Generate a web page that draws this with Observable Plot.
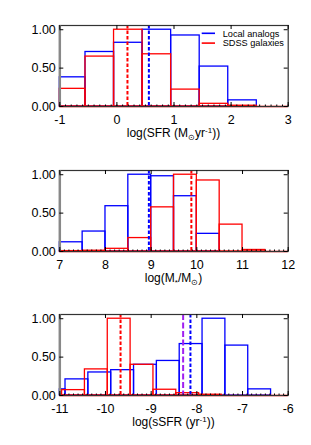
<!DOCTYPE html>
<html>
<head>
<meta charset="utf-8">
<script src="https://cdn.jsdelivr.net/npm/d3@7"></script>
<script src="https://cdn.jsdelivr.net/npm/@observablehq/plot@0.6"></script>
<style>
  html, body { margin: 0; padding: 0; background: #fff; }
  #chart { width: 311px; }
  #chart svg { display: block; }
</style>
</head>
<body>
<div id="chart"></div>
<script>
// ---------- data ----------
// Panel 1: log(SFR)
const sfrTicks = [-1, 0, 1, 2, 3];
const sfrEdges = [-1, -0.55, -0.05, 0.45, 0.95, 1.45, 1.95, 2.45, 3];
const sfrLocal = [0.38, 0.71, 0.83, 1.00, 0.925, 0.52, 0.08, 0];
const sfrSDSS  = [0.23, 0.65, 1.00, 0.68, 0.22, 0.035, 0.01, 0];
const sfrMeans = [{x: 0.185, series: "SDSS"}, {x: 0.56, series: "Local"}];

// Panel 2: log(M*/Msun)
const massTicks = [7, 8, 9, 10, 11, 12];
const massEdges = [7, 7.5, 8, 8.5, 9, 9.5, 10, 10.5, 11, 11.5, 12];
const massLocal = [0.12, 0.26, 0.59, 1.00, 0.98, 0.72, 0.23, 0, 0, 0];
const massSDSS  = [0.005, 0.01, 0.035, 0.175, 0.575, 1.00, 0.925, 0.35, 0.02, 0];
const massMeans = [{x: 8.95, series: "Local"}, {x: 9.88, series: "SDSS"}];

// Panel 3: log(sSFR)
const ssfrTicks = [-11, -10, -9, -8, -7, -6];
const ssfrLocalEdges = [-11, -10.875, -10.375, -9.875, -9.375, -8.875, -8.375, -7.875, -7.375, -6.875, -6.375];
const ssfrLocal = [0.08, 0.21, 0.30, 0.33, 0.40, 0.45, 0.67, 1.00, 0.65, 0.08];
const ssfrSDSSEdges = [-10.95, -10.45, -9.95, -9.45, -8.95, -8.45, -7.95, -7.45];
const ssfrSDSS = [0.07, 0.34, 1.00, 0.40, 0.075, 0.03, 0.01];
const ssfrMeans = [{x: -9.67, series: "SDSS"}, {x: -8.30, series: "Other"}, {x: -8.14, series: "Local"}];

const yTicks = [0, 0.5, 1];
const legendItems = [{name: "Local analogs", series: "Local"}, {name: "SDSS galaxies", series: "SDSS"}];

// ---------- styles ----------
const seriesNames = ["Local", "SDSS", "Other"];
const colors = {Local: "#0000ff", SDSS: "#ff0000", Other: "#a020f0"};
const dashes = {Local: "3.5,2", SDSS: "3.5,2", Other: "6,2.5"};
const FONT = "'Liberation Sans', Arial, Helvetica, sans-serif";
const W = 311, ML = 59.3, MR = 23.3, MT = 25, IH = 81;
const IW = W - ML - MR;

function bins(edges, values) {
  return values.map((v, i) => ({x1: edges[i], x2: edges[i + 1], v}));
}

function panel({height, xDomain, xTicks, local, sdss, means, label, legend}) {
  const mb = height - MT - IH;
  const minor = d3.range(Math.round(xDomain[0] * 10), Math.round(xDomain[1] * 10) + 1).map(d => d / 10);
  const meanMarks = seriesNames.map(sname =>
    Plot.ruleX(means.filter(d => d.series === sname), {
      x: "x", stroke: colors[sname], strokeDasharray: dashes[sname], strokeWidth: 2
    }));
  const svg = Plot.plot({
    width: W, height,
    marginLeft: ML, marginRight: MR, marginTop: MT, marginBottom: mb,
    style: {fontFamily: FONT, fontSize: "12.5px", background: "#fff", color: "#000"},
    x: {domain: xDomain},
    y: {domain: [0, 1.055]},
    marks: [
      Plot.rect(local, {x1: "x1", x2: "x2", y1: 0, y2: "v", fill: "none", stroke: colors.Local, strokeWidth: 1.3}),
      Plot.rect(sdss, {x1: "x1", x2: "x2", y1: 0, y2: "v", fill: "none", stroke: colors.SDSS, strokeWidth: 1.3}),
      ...meanMarks,
      Plot.ruleY([0], {stroke: colors.SDSS, strokeWidth: 1.5}),
      Plot.frame({stroke: "#333", strokeWidth: 1.2}),
      Plot.ruleX([xDomain[0]], {stroke: "#888", strokeWidth: 2.5}),
      Plot.tickX(minor, {x: d => d, stroke: "#000", strokeWidth: 1, insetTop: IH - 1.5}),
      Plot.tickX(xTicks, {x: d => d, stroke: "#000", strokeWidth: 1, insetTop: IH - 4}),
      Plot.tickX(xTicks, {x: d => d, stroke: "#000", strokeWidth: 1, insetBottom: IH - 4}),
      Plot.tickY(yTicks, {y: d => d, stroke: "#000", strokeWidth: 1, insetRight: IW - 4}),
      Plot.tickY(yTicks, {y: d => d, stroke: "#000", strokeWidth: 1, insetLeft: IW - 4}),
      Plot.axisX({ticks: xTicks, tickSize: 0, tickPadding: 8.2, tickFormat: d => String(d), label: null}),
      Plot.axisY({ticks: yTicks, tickSize: 0, tickPadding: 4, tickFormat: d3.format(".2f"), label: null})
    ]
  });
  const s = d3.select(svg);
  // axis title with sub/superscripts
  const t = s.append("text")
    .attr("x", ML + IW / 2).attr("y", MT + IH + 31)
    .attr("text-anchor", "middle")
    .attr("font-family", FONT).attr("font-size", 12).attr("fill", "#000");
  let pendingDy = 0;
  label.forEach(part => {
    const ts = t.append("tspan");
    let shift = 0;
    if (typeof part === "string") {
      ts.text(part);
    } else if (part.sub) {
      shift = 3; ts.attr("font-size", 8).text(part.sub);
    } else if (part.sup) {
      shift = -4.5; ts.attr("font-size", 8).text(part.sup);
    }
    const dy = pendingDy + shift;
    if (dy !== 0) ts.attr("dy", dy);
    pendingDy = -shift;
  });
  if (legend) {
    const g = s.append("g").attr("font-family", FONT).attr("font-size", 9.2).attr("text-anchor", "start");
    legend.forEach((d, i) => {
      const y = 33.3 + i * 9.8;
      g.append("line").attr("x1", 201.7).attr("x2", 215).attr("y1", y).attr("y2", y)
        .attr("stroke", colors[d.series]).attr("stroke-width", 1.6);
      g.append("text").attr("x", 222.7).attr("y", y + 3.3).attr("fill", "#000")
        .attr("text-anchor", "start").text(d.name);
    });
  }
  return svg;
}

const chart = document.getElementById("chart");
chart.append(panel({
  height: 145, xDomain: [-1, 3], xTicks: sfrTicks,
  local: bins(sfrEdges, sfrLocal), sdss: bins(sfrEdges, sfrSDSS), means: sfrMeans,
  label: ["log(SFR (M", {sub: "\u2299"}, "yr", {sup: "-1"}, "))"],
  legend: legendItems
}));
chart.append(panel({
  height: 144, xDomain: [7, 12], xTicks: massTicks,
  local: bins(massEdges, massLocal), sdss: bins(massEdges, massSDSS), means: massMeans,
  label: ["log(M", {sub: "*"}, "/M", {sub: "\u2299"}, ")"]
}));
chart.append(panel({
  height: 156, xDomain: [-11, -6], xTicks: ssfrTicks,
  local: bins(ssfrLocalEdges, ssfrLocal), sdss: bins(ssfrSDSSEdges, ssfrSDSS), means: ssfrMeans,
  label: ["log(sSFR (yr", {sup: "-1"}, "))"]
}));
</script>
</body>
</html>
